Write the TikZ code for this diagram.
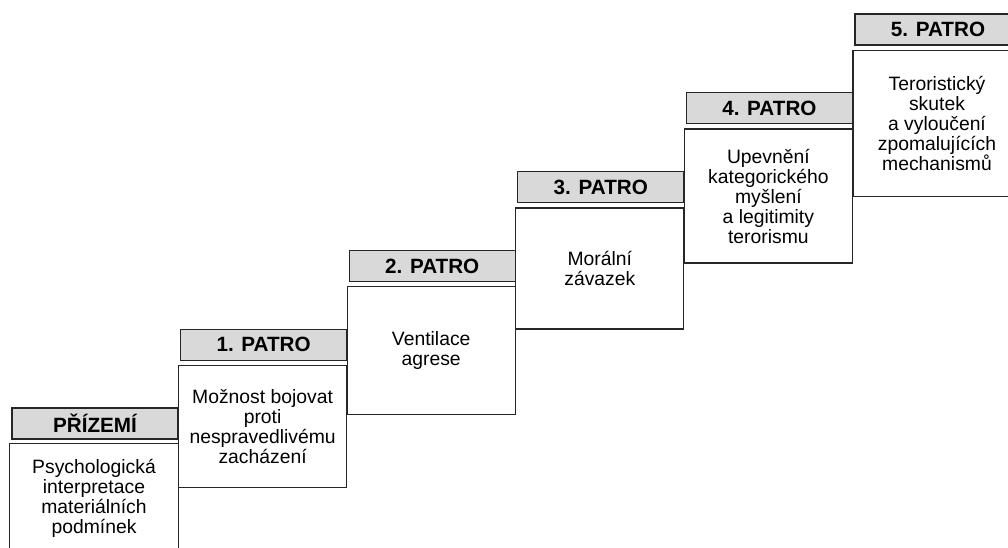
\documentclass[tikz,border=0pt]{standalone}
\usepackage{fontspec}
\setmainfont{Liberation Sans}
\tikzset{
  floorline/.style={draw=black!85,line width=1pt},
  floorhead/.style={floorline,fill=black!15,inner sep=0pt,
    minimum width=124.5pt,minimum height=23.25pt,
    font=\bfseries\fontsize{15.5}{16}\selectfont},
  floorbody/.style={floorline,fill=white,inner sep=0pt,align=center,
    minimum width=126pt,anchor=north,yshift=-3pt,
    font=\fontsize{14.5}{15}\selectfont}
}
\begin{document}
\begin{tikzpicture}[x=0.75pt,y=-0.75pt]
\useasboundingbox (0,0) rectangle (1008,548);
\clip (0,0) rectangle (1008,548);

% headers
\foreach \i/\flr in {0/PŘÍZEMÍ,1/1. PATRO,2/2. PATRO,3/3. PATRO,4/4. PATRO,5/5. PATRO}
{
    \node[floorhead] (h\i) at ({95+168.6*\i},{423.5-78.8*\i}) {\flr};
}

% ground floor, open at the bottom
\node[floorbody,draw=none,fill=none,minimum height=81pt] (b0) at ([xshift=-0.75pt]h0.south)
    {Psychologická\\interpretace\\materiálních\\podmínek};
\draw[floorline] (b0.north west |- 0,580)--(b0.north west)--(b0.north east)--(b0.north east |- 0,580);

% upper floors
\foreach \i/\bh/\txt in {1/91.5/{Možnost bojovat\\proti\\nespravedlivému\\zacházení},
                         2/96/{Ventilace\\agrese},
                         3/90.75/{Morální\\závazek},
                         4/100.5/{Upevnění\\kategorického\\myšlení\\a legitimity\\terorismu},
                         5/109.5/{Teroristický\\skutek\\a vyloučení\\zpomalujících\\mechanismů}}
{
    \node[floorbody,minimum height=\bh pt] (b\i) at ([xshift=-0.75pt]h\i.south) {\txt};
}

\end{tikzpicture}
\end{document}
